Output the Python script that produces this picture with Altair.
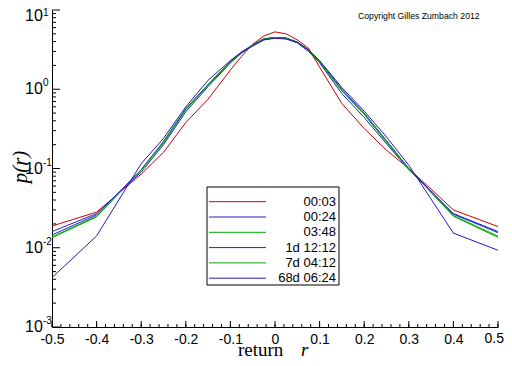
import altair as alt
import pandas as pd

# ---------------- data ----------------
r_vals = [-0.5, -0.4, -0.3, -0.25, -0.2, -0.15, -0.1, -0.075, -0.05, -0.025, 0.0,
          0.025, 0.05, 0.075, 0.1, 0.15, 0.2, 0.25, 0.3, 0.4, 0.5]

series_names = ["00:03", "00:24", "03:48", "1d 12:12", "7d 04:12", "68d 06:24"]
series_colors = ["#cc0000", "#2222cc", "#00aa00", "#2222cc", "#00aa00", "#3311bb"]

p_0003 = [0.0188, 0.0282, 0.085, 0.16, 0.38, 0.75, 1.75, 2.6, 3.7, 4.7, 5.3,
          5.0, 4.2, 3.3, 1.9, 0.66, 0.32, 0.17, 0.10, 0.030, 0.0185]
p_0024 = [0.016, 0.027, 0.090, 0.20, 0.52, 1.08, 2.15, 2.85, 3.55, 4.2, 4.45,
          4.35, 3.85, 3.0, 2.15, 0.88, 0.44, 0.205, 0.097, 0.027, 0.016]
p_0348 = [0.0137, 0.025, 0.095, 0.21, 0.55, 1.12, 2.2, 2.9, 3.6, 4.3, 4.5,
          4.4, 3.9, 3.1, 2.2, 0.95, 0.48, 0.215, 0.098, 0.0255, 0.014]
p_1d = [0.0145, 0.026, 0.097, 0.22, 0.57, 1.15, 2.25, 2.95, 3.65, 4.35, 4.5,
        4.45, 3.95, 3.15, 2.25, 1.0, 0.5, 0.225, 0.10, 0.0265, 0.0155]
p_7d = [0.0134, 0.0245, 0.096, 0.215, 0.56, 1.14, 2.22, 2.92, 3.6, 4.3, 4.48,
        4.42, 3.92, 3.12, 2.22, 0.97, 0.49, 0.22, 0.099, 0.025, 0.0135]
p_68d = [0.0042, 0.0141, 0.115, 0.24, 0.60, 1.30, 2.3, 2.95, 3.5, 4.2, 4.4,
         4.3, 3.9, 3.15, 2.3, 1.05, 0.53, 0.25, 0.11, 0.0153, 0.0093]

x_tick_labels = [-0.5, -0.4, -0.3, -0.2, -0.1, 0.0, 0.1, 0.2, 0.3, 0.4, 0.5]
last_x_label = "0.5"
y_exponents = [0, -1, -2, -3]
y_exp_text = ["0", "-1", "-2", "-3"]
y_top_exp = 1
y_top_text = "1"

W, H = 446, 317

# ---------------- tables ----------------
all_p = [p_0003, p_0024, p_0348, p_1d, p_7d, p_68d]
rows = []
for name, ps in zip(series_names, all_p):
    for r, p in zip(r_vals, ps):
        rows.append({"series": name, "r": r, "p": p})
df = pd.DataFrame(rows)

one = pd.DataFrame({"k": [0]})
x_minor = [round(-0.5 + 0.02 * i, 2) for i in range(51)]
df_xmaj = pd.DataFrame({"r": x_tick_labels})
df_xmin = pd.DataFrame({"r": x_minor})
df_ymaj = pd.DataFrame({"p": [10.0 ** e for e in [y_top_exp] + y_exponents]})
df_ymin = pd.DataFrame({"p": [m * 10.0 ** e for e in [-3, -2, -1, 0] for m in range(2, 10)]})
df_ylab = pd.DataFrame({"p": [10.0 ** e for e in y_exponents], "sup": y_exp_text})

xscale = alt.Scale(domain=[-0.5, 0.5], nice=False, zero=False)
yscale = alt.Scale(type="log", domain=[0.001, 10], nice=False)

label_expr = ("datum.value > 0.45 ? '' : (datum.value == 0 ? '0' : (datum.value < 0 ? "
              "'-' + format(-datum.value, '.1f') : format(datum.value, '.1f')))")
X = alt.X("r:Q", scale=xscale,
          axis=alt.Axis(values=x_tick_labels, labelExpr=label_expr, title=None, grid=False,
                        tickSize=0, labelPadding=5, labelFont="Liberation Sans",
                        labelFontSize=14, labelColor="black", labelFlush=False,
                        labelOverlap=False, domainColor="black", domainWidth=1))
Y = alt.Y("p:Q", scale=yscale,
          axis=alt.Axis(values=[10.0 ** e for e in [y_top_exp] + y_exponents], labels=False,
                        ticks=False, title=None, grid=False, domainColor="black",
                        domainWidth=1))

lines = alt.Chart(df).mark_line(strokeWidth=1).encode(
    x=X, y=Y,
    color=alt.Color("series:N", scale=alt.Scale(domain=series_names, range=series_colors),
                    legend=None),
)

xmaj = alt.Chart(df_xmaj).mark_rule(color="black", strokeWidth=1).encode(
    x=X, y=alt.value(H), y2=alt.value(H - 6))
xmin = alt.Chart(df_xmin).mark_rule(color="black", strokeWidth=1).encode(
    x=X, y=alt.value(H), y2=alt.value(H - 3))
ymaj = alt.Chart(df_ymaj).mark_rule(color="black", strokeWidth=1).encode(
    y=Y, x=alt.value(0), x2=alt.value(8))
ymin = alt.Chart(df_ymin).mark_rule(color="black", strokeWidth=1).encode(
    y=Y, x=alt.value(0), x2=alt.value(4))

# last x label kept inside the page
xlast = alt.Chart(one).mark_text(align="right", baseline="top", font="Liberation Sans",
                                 fontSize=14, color="black").encode(
    x=alt.value(W + 6), y=alt.value(H + 5), text=alt.value(last_x_label))

ylab10 = alt.Chart(df_ylab).mark_text(align="left", baseline="middle", font="Liberation Sans",
                                      fontSize=16, color="black").encode(
    y=Y, x=alt.value(-27), text=alt.value("10"))
ylabsup = alt.Chart(df_ylab).mark_text(align="left", baseline="middle", font="Liberation Sans",
                                       fontSize=10, color="black", dy=-6).encode(
    y=Y, x=alt.value(-9), text="sup:N")
# top label (kept inside the page)
ytop10 = alt.Chart(one).mark_text(align="left", baseline="top", font="Liberation Sans",
                                  fontSize=16, color="black").encode(
    y=alt.value(-2), x=alt.value(-27), text=alt.value("10"))
ytopsup = alt.Chart(one).mark_text(align="left", baseline="top", font="Liberation Sans",
                                   fontSize=10, color="black").encode(
    y=alt.value(-2), x=alt.value(-9), text=alt.value(y_top_text))

xtitle1 = alt.Chart(one).mark_text(align="left", baseline="alphabetic",
                                   font="Liberation Serif", fontSize=19,
                                   color="black").encode(
    x=alt.value(186), y=alt.value(H + 29), text=alt.value("return"))
xtitle2 = alt.Chart(one).mark_text(align="left", baseline="alphabetic",
                                   font="Liberation Serif", fontSize=19, fontStyle="italic",
                                   color="black").encode(
    x=alt.value(249), y=alt.value(H + 29), text=alt.value("r"))
ytitle = alt.Chart(one).mark_text(align="center", baseline="middle", angle=270,
                                  font="Liberation Serif", fontSize=21, fontStyle="italic",
                                  color="black").encode(
    x=alt.value(-31), y=alt.value(157), text=alt.value("p(r)"))

copyright_txt = alt.Chart(one).mark_text(align="left", baseline="middle",
                                         font="Liberation Sans", fontSize=8.7,
                                         color="black").encode(
    x=alt.value(306), y=alt.value(6), text=alt.value("Copyright Gilles Zumbach 2012"))

# legend box
leg_box = alt.Chart(one).mark_rect(fill="white", stroke="black", strokeWidth=1).encode(
    x=alt.value(155), x2=alt.value(287), y=alt.value(177), y2=alt.value(275))
leg_layers = [leg_box]
for i, (name, col) in enumerate(zip(series_names, series_colors)):
    yy = 191.7 + 15.3 * i
    leg_layers.append(alt.Chart(one).mark_rule(color=col, strokeWidth=1).encode(
        x=alt.value(157), x2=alt.value(214), y=alt.value(yy)))
    leg_layers.append(alt.Chart(one).mark_text(align="right", baseline="middle",
                                               font="Liberation Sans", fontSize=13,
                                               color="black").encode(
        x=alt.value(284), y=alt.value(yy), text=alt.value(name)))

chart = alt.layer(
    lines, xmaj, xmin, ymaj, ymin, xlast, ylab10, ylabsup, ytop10, ytopsup,
    xtitle1, xtitle2, ytitle, copyright_txt, *leg_layers
).properties(
    width=W, height=H,
    autosize=alt.AutoSizeParams(type="none"),
    padding={"left": 44, "top": 2, "right": 6, "bottom": 30},
    background="white",
).configure_view(stroke=None)

chart.save("out.html", embed_options={"renderer": "svg", "actions": False})
